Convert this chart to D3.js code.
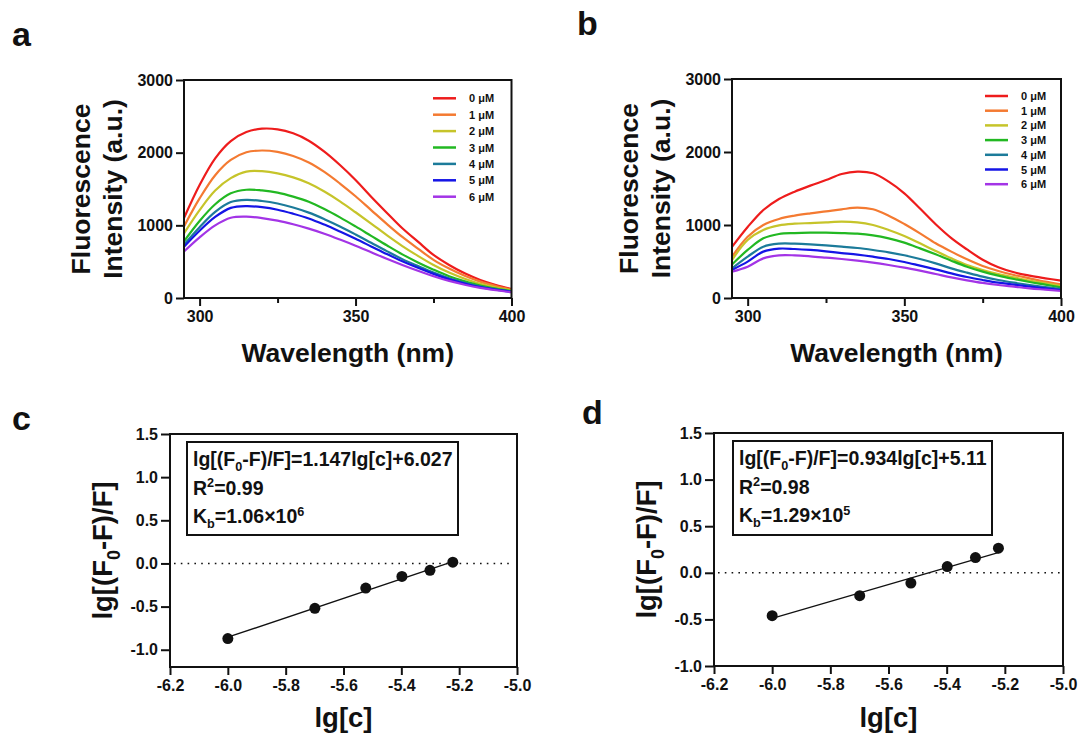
<!DOCTYPE html>
<html>
<head>
<meta charset="utf-8">
<script src="https://cdn.jsdelivr.net/npm/d3@7"></script>
<style>
  body { margin: 0; background: #fff; }
  svg text { font-family: Arial, "Liberation Sans", sans-serif; font-weight: bold; fill: #111; }
  .tick text { font-size: 16px; }
  .tick line { stroke: #111; stroke-width: 2px; }
</style>
</head>
<body>
<script>
// ---- data ----
const wavelengths = [295, 300, 305, 310, 315, 320, 325, 330, 335, 340, 345, 350,
                     355, 360, 365, 370, 375, 380, 385, 390, 395, 400];
const concLabels = ['0 μM', '1 μM', '2 μM', '3 μM', '4 μM', '5 μM', '6 μM'];
const colors = ['#ee1c1c', '#f47a31', '#c6c42a', '#22b822', '#1c7b9a', '#1515e6', '#a334e6'];

// panel a
const specA0 = [1100, 1555, 1922, 2160, 2284, 2330, 2321, 2266, 2165, 2014, 1830, 1624, 1394, 1174, 959, 775, 592, 454, 339, 248, 179, 124];
const specA1 = [985, 1370, 1690, 1900, 2005, 2030, 2010, 1955, 1865, 1735, 1575, 1400, 1210, 1020, 840, 680, 525, 405, 305, 225, 165, 115];
const specA2 = [890, 1210, 1480, 1650, 1740, 1745, 1715, 1660, 1580, 1465, 1330, 1180, 1025, 865, 715, 580, 455, 350, 265, 195, 145, 105];
const specA3 = [780, 1060, 1290, 1440, 1490, 1480, 1450, 1395, 1325, 1225, 1110, 985, 855, 725, 600, 490, 390, 300, 230, 170, 130, 95];
const specA4 = [735, 975, 1185, 1320, 1350, 1335, 1300, 1245, 1175, 1085, 985, 875, 760, 645, 535, 440, 350, 272, 210, 158, 120, 88];
const specA5 = [705, 925, 1115, 1240, 1265, 1250, 1215, 1160, 1095, 1010, 915, 815, 710, 605, 505, 415, 332, 258, 200, 150, 115, 85];
const specA6 = [640, 835, 1000, 1105, 1120, 1100, 1065, 1015, 955, 885, 805, 720, 630, 540, 455, 375, 300, 235, 183, 140, 107, 80];

// panel b
const specB0 = [700, 973, 1205, 1356, 1457, 1539, 1616, 1699, 1731, 1708, 1594, 1434, 1225, 1010, 820, 665, 525, 422, 352, 306, 270, 237];
const specB1 = [566, 840, 1000, 1082, 1128, 1160, 1187, 1215, 1237, 1215, 1128, 1014, 886, 750, 635, 530, 438, 370, 315, 269, 224, 187];
const specB2 = [520, 795, 932, 995, 1018, 1027, 1037, 1046, 1037, 1000, 932, 850, 749, 644, 543, 452, 384, 329, 283, 237, 201, 164];
const specB3 = [460, 658, 817, 877, 890, 895, 895, 890, 881, 858, 817, 758, 680, 598, 511, 429, 361, 306, 260, 219, 183, 146];
const specB4 = [405, 566, 703, 744, 744, 735, 721, 703, 685, 658, 626, 585, 534, 475, 406, 347, 292, 247, 210, 178, 151, 123];
const specB5 = [385, 498, 635, 676, 671, 658, 639, 616, 594, 566, 534, 493, 443, 393, 338, 288, 247, 210, 183, 155, 132, 110];
const specB6 = [360, 429, 543, 584, 584, 571, 553, 534, 511, 484, 452, 416, 374, 329, 283, 242, 206, 178, 155, 132, 114, 96];

const specTicks = [300, 350, 400];
const specMinorTicks = [325, 375];
const intensityTicks = [0, 1000, 2000, 3000];

// panels c and d
const lgConc = [-6.0, -5.699, -5.523, -5.398, -5.301, -5.222];
const lgRatioC = [-0.87, -0.52, -0.285, -0.15, -0.08, 0.015];
const lgRatioD = [-0.46, -0.245, -0.11, 0.067, 0.163, 0.264];
const fitC = [[-6.0, -0.855], [-5.24, 0.0]];
const fitD = [[-6.0, -0.49], [-5.22, 0.22]];
const lgTicks = [-6.2, -6.0, -5.8, -5.6, -5.4, -5.2, -5.0];
const ratioTicks = [-1.0, -0.5, 0.0, 0.5, 1.0, 1.5];

const svg = d3.select('body').append('svg')
  .attr('width', 1081)
  .attr('height', 740);

// writes a line made of [text, 'n'|'sub'|'sup'] parts
function richText(t, parts, size) {
  let shift = 0;
  parts.forEach(([s, mode]) => {
    const target = mode === 'sub' ? size * 0.28 : mode === 'sup' ? -size * 0.38 : 0;
    t.append('tspan')
      .attr('dy', target - shift)
      .attr('font-size', mode === 'n' ? size : size * 0.65)
      .text(s);
    shift = target;
  });
}

function frame(p) {
  svg.append('rect')
    .attr('x', p.x0).attr('y', p.y0)
    .attr('width', p.x1 - p.x0).attr('height', p.y1 - p.y0)
    .attr('fill', 'none').attr('stroke', '#111').attr('stroke-width', 2);
}

function drawSpectra(p, series, leg) {
  const x = d3.scaleLinear().domain([295, 400]).range([p.x0, p.x1]);
  const y = d3.scaleLinear().domain([0, 3000]).range([p.y1, p.y0]);
  const line = d3.line()
    .x((d, i) => x(wavelengths[i]))
    .y(d => y(d))
    .curve(d3.curveCatmullRom.alpha(0.5));

  svg.append('g').selectAll('path')
    .data(series)
    .join('path')
    .attr('d', line)
    .attr('fill', 'none')
    .attr('stroke', (d, i) => colors[i])
    .attr('stroke-width', 2.2);

  svg.append('g')
    .attr('transform', 'translate(0,' + p.y1 + ')')
    .call(d3.axisBottom(x).tickValues(specTicks).tickSize(8).tickPadding(5))
    .call(g => g.select('.domain').remove());
  svg.append('g')
    .attr('transform', 'translate(0,' + p.y1 + ')')
    .call(d3.axisBottom(x).tickValues(specMinorTicks).tickSize(5).tickFormat(''))
    .call(g => g.select('.domain').remove());
  svg.append('g')
    .attr('transform', 'translate(' + p.x0 + ',0)')
    .call(d3.axisLeft(y).tickValues(intensityTicks).tickSize(8).tickPadding(3).tickFormat(d3.format('d')))
    .call(g => g.select('.domain').remove());
  frame(p);

  // legend
  const lg = svg.append('g');
  concLabels.forEach((c, i) => {
    const yy = leg.y + i * leg.dy;
    lg.append('line')
      .attr('x1', leg.x).attr('x2', leg.x + 23)
      .attr('y1', yy).attr('y2', yy)
      .attr('stroke', colors[i]).attr('stroke-width', 2.5);
    lg.append('text')
      .attr('x', leg.x + 36).attr('y', yy + 4)
      .attr('font-size', 11)
      .text(c);
  });

  // axis titles
  const cy = (p.y0 + p.y1) / 2;
  svg.append('text')
    .attr('transform', 'translate(' + (p.x0 - 94) + ',' + cy + ') rotate(-90)')
    .attr('text-anchor', 'middle').attr('font-size', 26.5)
    .text('Fluorescence');
  svg.append('text')
    .attr('transform', 'translate(' + (p.x0 - 62) + ',' + cy + ') rotate(-90)')
    .attr('text-anchor', 'middle').attr('font-size', 26.5)
    .text('Intensity (a.u.)');
  svg.append('text')
    .attr('x', (p.x0 + p.x1) / 2).attr('y', 362)
    .attr('text-anchor', 'middle').attr('font-size', 26.5)
    .text('Wavelength (nm)');
}

function drawBinding(p, yMin, vals, fit, box, lines) {
  const x = d3.scaleLinear().domain([-6.2, -5.0]).range([p.x0, p.x1]);
  const y = d3.scaleLinear().domain([yMin, 1.5]).range([p.y1, p.y0]);

  svg.append('g')
    .attr('transform', 'translate(0,' + p.y1 + ')')
    .call(d3.axisBottom(x).tickValues(lgTicks).tickSize(8).tickPadding(5).tickFormat(d => d.toFixed(1)))
    .call(g => g.select('.domain').remove());
  svg.append('g')
    .attr('transform', 'translate(' + p.x0 + ',0)')
    .call(d3.axisLeft(y).tickValues(ratioTicks).tickSize(9).tickPadding(3).tickFormat(d => d.toFixed(1)))
    .call(g => g.select('.domain').remove());

  // zero reference line
  svg.append('line')
    .attr('x1', p.x0 + 4).attr('x2', p.x1 - 3)
    .attr('y1', y(0)).attr('y2', y(0))
    .attr('stroke', '#111').attr('stroke-width', 1.6)
    .attr('stroke-dasharray', '1.6,5.2');

  svg.append('path')
    .datum(fit)
    .attr('d', d3.line().x(d => x(d[0])).y(d => y(d[1])))
    .attr('fill', 'none').attr('stroke', '#111').attr('stroke-width', 1.3);

  svg.append('g').selectAll('circle')
    .data(vals)
    .join('circle')
    .attr('cx', (d, i) => x(lgConc[i]))
    .attr('cy', d => y(d))
    .attr('r', 5.5)
    .attr('fill', '#111');

  frame(p);

  // equation box
  svg.append('rect')
    .attr('x', box.x).attr('y', box.y)
    .attr('width', box.w).attr('height', box.h)
    .attr('fill', '#fff').attr('stroke', '#111').attr('stroke-width', 2);
  lines.forEach((parts, i) => {
    const t = svg.append('text')
      .attr('x', box.x + 6).attr('y', box.y + 24 + i * 28.5);
    richText(t, parts, 19.5);
  });

  // axis titles
  const yl = svg.append('text')
    .attr('transform', 'translate(' + (p.x0 - 58) + ',' + ((p.y0 + p.y1) / 2) + ') rotate(-90)')
    .attr('text-anchor', 'middle');
  richText(yl, [['lg[(F', 'n'], ['0', 'sub'], ['-F)/F]', 'n']], 27.5);
  svg.append('text')
    .attr('x', (p.x0 + p.x1) / 2).attr('y', 727)
    .attr('text-anchor', 'middle').attr('font-size', 27.5)
    .text('lg[c]');
}

const panelA = { x0: 184, x1: 511.5, y0: 80, y1: 298 };
const panelB = { x0: 732, x1: 1061, y0: 79, y1: 298 };
const panelC = { x0: 170, x1: 517, y0: 434, y1: 667 };
const panelD = { x0: 714, x1: 1063, y0: 433, y1: 666 };

drawSpectra(panelA, [specA0, specA1, specA2, specA3, specA4, specA5, specA6], { x: 433, y: 98.3, dy: 16.4 });
drawSpectra(panelB, [specB0, specB1, specB2, specB3, specB4, specB5, specB6], { x: 985, y: 96, dy: 14.7 });

drawBinding(panelC, -1.2, lgRatioC, fitC, { x: 187, y: 442, w: 271, h: 93 }, [
  [['lg[(F', 'n'], ['0', 'sub'], ['-F)/F]=1.147lg[c]+6.027', 'n']],
  [['R', 'n'], ['2', 'sup'], ['=0.99', 'n']],
  [['K', 'n'], ['b', 'sub'], ['=1.06×10', 'n'], ['6', 'sup']]
]);
drawBinding(panelD, -1.0, lgRatioD, fitD, { x: 733, y: 441, w: 259, h: 94 }, [
  [['lg[(F', 'n'], ['0', 'sub'], ['-F)/F]=0.934lg[c]+5.11', 'n']],
  [['R', 'n'], ['2', 'sup'], ['=0.98', 'n']],
  [['K', 'n'], ['b', 'sub'], ['=1.29×10', 'n'], ['5', 'sup']]
]);

// panel letters
[['a', 12, 46], ['b', 577, 35], ['c', 12, 430], ['d', 582, 424]].forEach(([s, x, y]) => {
  svg.append('text').attr('x', x).attr('y', y).attr('font-size', 34).text(s);
});
</script>
</body>
</html>
